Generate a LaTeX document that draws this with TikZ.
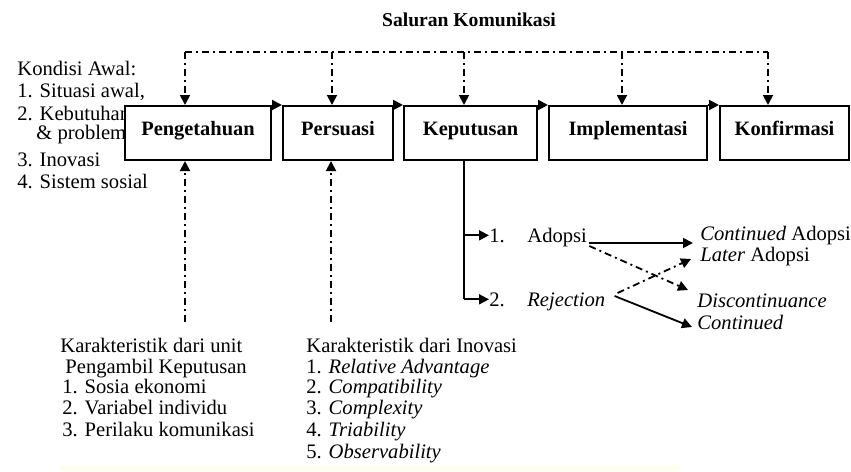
\documentclass[tikz,border=0pt]{standalone}
\usepackage{fontspec}
\setmainfont{Liberation Serif}
\usetikzlibrary{arrows.meta}
\begin{document}
\begin{tikzpicture}[x=0.5pt,y=-0.5pt,
  tip/.style={-{Triangle[length=5pt,width=5pt]}},
  dd/.style={line width=0.9pt,dash pattern=on 3.5pt off 2pt on 1pt off 2pt},
  stage/.style={draw,line width=1pt,fill=white,minimum height=27pt,text height=7pt,text depth=5pt,
    font=\fontsize{10.2}{12}\selectfont\bfseries,inner sep=0pt},
  txt/.style={anchor=base west,inner sep=0pt,font=\fontsize{10.3}{12}\selectfont},
  conn/.style={line width=0.9pt}]
\useasboundingbox (0,0) rectangle (851,471);

% title
\node[anchor=base,inner sep=0pt,font=\fontsize{9.8}{12}\selectfont\bfseries] (title) at (469,26) {Saluran Komunikasi};

% initial conditions (partly covered by the first box)
\node[txt] (k0) at (17,75) {Kondisi Awal:};
\node[txt] (k1) at (17,97) {1. Situasi awal,};
\node[txt] (k2) at (17,120) {2. Kebutuhan};
\node[txt] (k3) at (36,139) {\& problem};
\node[txt] (k4) at (17,166) {3. Inovasi};
\node[txt] (k5) at (17,188) {4. Sistem sosial};

% stages
\node[stage,minimum width=73pt]   (peng) at (198,133)   {Pengetahuan};
\node[stage,minimum width=55pt]   (pers) at (338,133)   {Persuasi};
\node[stage,minimum width=66.5pt] (kep)  at (470.5,133) {Keputusan};
\node[stage,minimum width=79pt]   (impl) at (628,133)   {Implementasi};
\node[stage,minimum width=64.5pt] (konf) at (784.5,133) {Konfirmasi};

\draw[line width=1pt,tip] (peng.north east) -- (pers.north west);
\draw[line width=1pt,tip] (pers.north east) -- (kep.north west);
\draw[line width=1pt,tip] (kep.north east) -- (impl.north west);
\draw[line width=1pt,tip] (impl.north east) -- (konf.north west);

% communication channels
\coordinate (t1) at (185,52);
\coordinate (t2) at (332,52);
\coordinate (t3) at (464,52);
\coordinate (t4) at (622,52);
\coordinate (t5) at (768,52);
\draw[dd] (t1) -- (t5);
\draw[dd,tip] (t1) -- (t1 |- peng.north);
\draw[dd,tip] (t2) -- (t2 |- pers.north);
\draw[dd,tip] (t3) -- (t3 |- kep.north);
\draw[dd,tip] (t4) -- (t4 |- impl.north);
\draw[dd,tip] (t5) -- (t5 |- konf.north);

% characteristics from below
\coordinate (b1) at (185,322);
\coordinate (b2) at (331,322);
\draw[dd,tip] (b1) -- (b1 |- peng.south);
\draw[dd,tip] (b2) -- (b2 |- pers.south);

\node[txt] (u0) at (60,352) {Karakteristik dari unit};
\node[txt] (u1) at (65,373) {Pengambil Keputusan};
\node[txt] (u2) at (62,393) {1. Sosia ekonomi};
\node[txt] (u3) at (62,414) {2. Variabel individu};
\node[txt] (u4) at (62,436) {3. Perilaku komunikasi};

\node[txt] (v0) at (306,352) {Karakteristik dari Inovasi};
\node[txt] (v1) at (306,373) {1. \textit{Relative Advantage}};
\node[txt] (v2) at (306,393) {2. \textit{Compatibility}};
\node[txt] (v3) at (306,414) {3. \textit{Complexity}};
\node[txt] (v4) at (306,436) {4. \textit{Triability}};
\node[txt] (v5) at (306,458) {5. \textit{Observability}};

% decision branches
\coordinate (kd) at (464,160);
\node[txt] (n1) at (489,242) {1.};
\node[txt] (n2) at (489,306) {2.};
\node[txt] (ad) at (527,242) {Adopsi};
\node[txt] (rej) at (527,306) {\textit{Rejection}};
\draw[conn] (kd |- kep.south) -- (kd |- n2.west);
\draw[conn,tip] (kd |- n1.west) -- (n1.west);
\draw[conn,tip] (kd |- n2.west) -- (n2.west);

\node[txt] (ca) at (700,240) {\textit{Continued} Adopsi};
\node[txt] (la) at (700,261) {\textit{Later} Adopsi};
\node[txt] (dc) at (697,307) {\textit{Discontinuance}};
\node[txt] (co) at (697,329) {\textit{Continued}};

\draw[conn,tip] ([xshift=1pt,yshift=-0.5pt]ad.base east) -- ([xshift=-3.5pt,yshift=-1.5pt]ca.base west);
\draw[dd,tip] ([xshift=1pt,yshift=-2pt]ad.base east) -- ([xshift=-4.5pt,yshift=8.5pt]dc.base west);
\draw[dd,tip] ([xshift=6pt,yshift=6.5pt]rej.base east) -- ([xshift=-4.5pt,yshift=1pt]la.base west);
\draw[conn,tip] ([xshift=4.5pt,yshift=5pt]rej.base east) -- ([xshift=-2.5pt,yshift=1pt]co.base west);

% faint strip at the bottom
\fill[yellow!8] (60,466) rectangle (680,471);
\end{tikzpicture}
\end{document}
